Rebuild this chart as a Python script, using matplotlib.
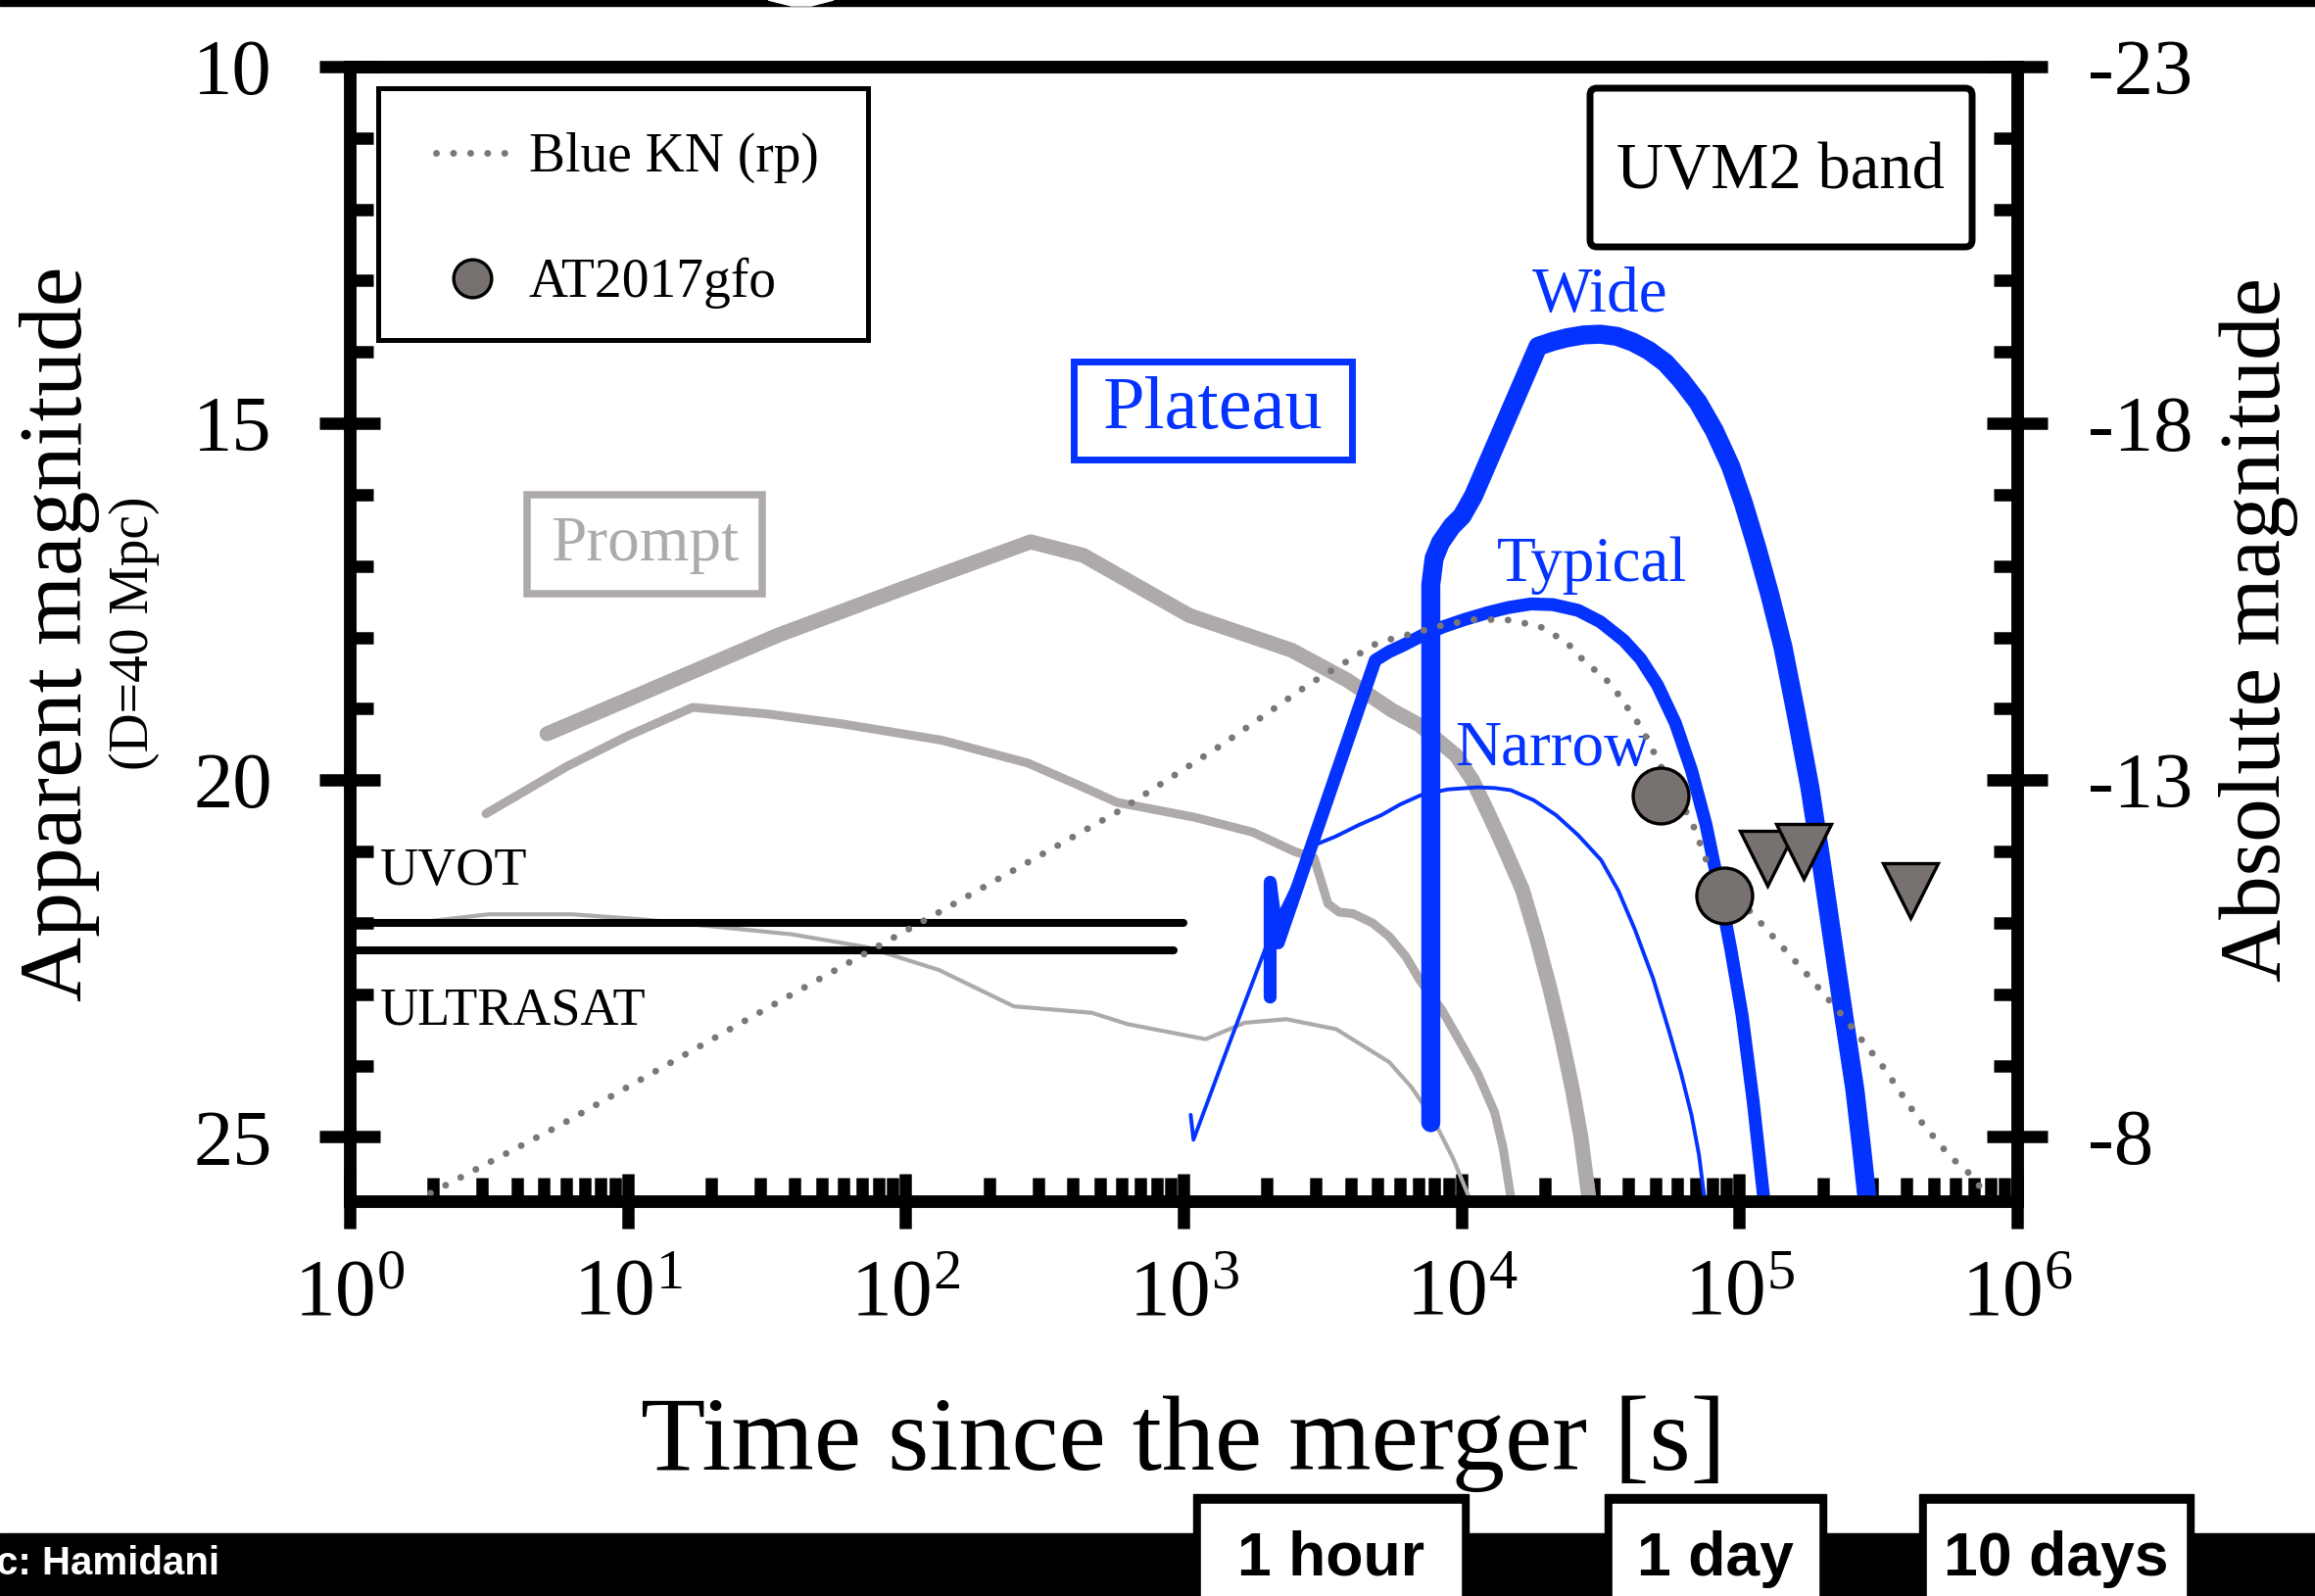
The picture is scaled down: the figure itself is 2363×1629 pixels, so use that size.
import numpy as np
import matplotlib
matplotlib.use("Agg")
import matplotlib.pyplot as plt
from matplotlib.patches import Rectangle, FancyBboxPatch, Polygon
from matplotlib.transforms import IdentityTransform
from matplotlib.ticker import (LogLocator, LogFormatterMathtext, MultipleLocator,
                               FixedLocator, FuncFormatter, NullFormatter)

plt.rcParams['font.family'] = ['Liberation Serif', 'DejaVu Serif']
plt.rcParams['mathtext.fontset'] = 'custom'
plt.rcParams['mathtext.rm'] = 'Liberation Serif'
plt.rcParams['mathtext.it'] = 'Liberation Serif:italic'
plt.rcParams['mathtext.bf'] = 'Liberation Serif:bold'

# ---- values: log10(t / s) and apparent magnitude ----
prompt_wide_logt = [0.71, 1.00, 1.54, 2.00, 2.45, 2.64, 3.02, 3.39, 3.59, 3.75, 3.85,
                    3.98, 4.04, 4.10, 4.16, 4.22, 4.27, 4.32, 4.36, 4.40, 4.43, 4.46, 4.48]
prompt_wide_mag = [19.35, 18.87, 17.97, 17.30, 16.66, 16.85, 17.69, 18.18, 18.60, 19.02,
                   19.23, 19.65, 20.00, 20.49, 21.00, 21.54, 22.20, 22.94, 23.60, 24.34,
                   25.00, 25.89, 26.3]

prompt_typ_logt = [0.49, 0.78, 1.00, 1.234, 1.50, 1.77, 2.13, 2.44, 2.64, 2.76, 3.04, 3.25,
                   3.40, 3.47, 3.52, 3.56, 3.61, 3.68, 3.74, 3.80, 3.85, 3.93, 4.00, 4.06,
                   4.12, 4.15, 4.18, 4.19]
prompt_typ_mag = [20.47, 19.81, 19.38, 18.98, 19.07, 19.21, 19.44, 19.76, 20.10, 20.31,
                  20.52, 20.73, 21.00, 21.09, 21.73, 21.85, 21.87, 22.00, 22.19, 22.47,
                  22.80, 23.22, 23.70, 24.12, 24.66, 25.15, 25.90, 26.3]

prompt_nar_logt = [0.30, 0.50, 0.80, 1.05, 1.59, 1.86, 2.12, 2.39, 2.67, 2.80, 3.08, 3.22,
                   3.37, 3.55, 3.74, 3.82, 3.90, 3.97, 4.04, 4.05]
prompt_nar_mag = [21.97, 21.88, 21.88, 21.95, 22.16, 22.34, 22.66, 23.17, 23.26, 23.42,
                  23.63, 23.40, 23.35, 23.49, 23.95, 24.30, 24.76, 25.30, 25.96, 26.3]

wide_logt = [3.89, 3.89, 3.902, 3.925, 3.966, 4.002, 4.043, 4.276, 4.33, 4.38, 4.44, 4.50,
             4.56, 4.617, 4.675, 4.734, 4.79, 4.851, 4.91, 4.969, 5.016, 5.063, 5.11,
             5.157, 5.205, 5.254, 5.295, 5.335, 5.375, 5.416, 5.44, 5.465]
wide_mag = [24.80, 17.26, 16.89, 16.67, 16.44, 16.30, 16.02, 13.92, 13.85, 13.80, 13.76,
            13.75, 13.78, 13.86, 13.98, 14.15, 14.39, 14.70, 15.10, 15.60, 16.13, 16.74,
            17.40, 18.13, 19.08, 20.10, 21.15, 22.22, 23.28, 24.34, 25.15, 26.05]

typ_logt = [3.312, 3.312, 3.341, 3.69, 3.74, 3.79, 3.86, 3.935, 4.01, 4.097, 4.17, 4.25,
            4.33, 4.42, 4.50, 4.584, 4.645, 4.706, 4.77, 4.828, 4.88, 4.929, 4.97, 5.010,
            5.05, 5.091, 5.10]
typ_mag = [23.04, 21.43, 22.28, 18.32, 18.20, 18.11, 17.97, 17.85, 17.75, 17.65, 17.58,
           17.53, 17.54, 17.62, 17.78, 18.04, 18.30, 18.67, 19.20, 19.86, 20.62, 21.54,
           22.38, 23.29, 24.50, 25.96, 26.3]

nar_logt = [3.026, 3.036, 3.164, 3.327, 3.465, 3.547, 3.63, 3.712, 3.78, 3.854, 3.95,
            4.057, 4.12, 4.178, 4.26, 4.341, 4.42, 4.503, 4.565, 4.625, 4.69, 4.746,
            4.79, 4.828, 4.855, 4.878, 4.885]
nar_mag = [24.69, 25.04, 23.70, 22.03, 20.92, 20.79, 20.63, 20.49, 20.34, 20.21, 20.13,
           20.10, 20.11, 20.14, 20.28, 20.49, 20.77, 21.12, 21.55, 22.10, 22.78, 23.50,
           24.10, 24.69, 25.25, 25.96, 26.3]

kn_logt = [0.236, 0.75, 1.50, 2.13, 2.76, 3.14, 3.45, 3.70, 3.82, 3.92, 4.04, 4.16, 4.28,
           4.38, 4.42, 4.54, 4.65, 4.73, 4.83, 4.89, 5.07, 5.23, 5.38, 5.52, 5.64, 5.76,
           5.82, 5.92]
kn_mag = [25.90, 24.85, 23.20, 21.83, 20.45, 19.50, 18.66, 18.07, 17.95, 17.84, 17.75,
          17.75, 17.84, 18.07, 18.25, 18.66, 19.28, 19.90, 20.59, 21.21, 21.97, 22.66,
          23.34, 24.03, 24.72, 25.28, 25.48, 25.95]

obs_logt = [4.718, 4.946]
obs_mag = [20.21, 21.61]
uplim_logt = [5.102, 5.232, 5.617]
uplim_mag = [21.10, 21.00, 21.55]

uvot_mag, uvot_tend = 22.0, 1000
ultrasat_mag, ultrasat_tend = 22.38, 920

dist_mod = 33.0  # D = 40 Mpc
ylim_app = (25.9, 10)

GRAY = '#aeaaa9'
BLUE = '#0433ff'
DOT = '#7b7776'
MARK = '#77726f'

W, H = 2363, 1629
fig = plt.figure(figsize=(W / 100, H / 100), dpi=100)
PIX = IdentityTransform()


def sec(logt):
    return np.power(10.0, logt)


ax = fig.add_axes([357 / W, 1 - 1226 / H, (2059 - 357) / W, (1226 - 68) / H])
ax.set_xscale('log')
ax.set_xlim(1, 1e6)
ax.set_ylim(*ylim_app)

# prompt (grey) curves
ax.plot(sec(prompt_wide_logt), prompt_wide_mag, color=GRAY, lw=11,
        solid_capstyle='round', solid_joinstyle='round', zorder=2)
ax.plot(sec(prompt_typ_logt), prompt_typ_mag, color=GRAY, lw=6.5,
        solid_capstyle='round', solid_joinstyle='round', zorder=2)
ax.plot(sec(prompt_nar_logt), prompt_nar_mag, color=GRAY, lw=3,
        solid_capstyle='round', solid_joinstyle='round', zorder=2)

# detector limits
ax.plot([1, uvot_tend], [uvot_mag, uvot_mag], color='k', lw=5.8,
        solid_capstyle='round', zorder=3)
ax.plot([1, ultrasat_tend], [ultrasat_mag, ultrasat_mag], color='k', lw=5.8,
        solid_capstyle='round', zorder=3)

# plateau (blue) curves
ax.plot(sec(wide_logt), wide_mag, color=BLUE, lw=14,
        solid_capstyle='round', solid_joinstyle='round', zorder=4)
ax.plot(sec(typ_logt), typ_mag, color=BLUE, lw=9.5,
        solid_capstyle='round', solid_joinstyle='round', zorder=4)
ax.plot(sec(nar_logt), nar_mag, color=BLUE, lw=2.8,
        solid_capstyle='round', solid_joinstyle='round', zorder=4)

# blue kilonova
kn_line, = ax.plot(sec(kn_logt), kn_mag, color=DOT, lw=5,
                   linestyle=(0, (0.01, 2.5)), dash_capstyle='round', zorder=5)

# AT2017gfo
obs_pts, = ax.plot(sec(obs_logt), obs_mag, linestyle='none', marker='o', ms=41,
                   mfc=MARK, mec='k', mew=2.4, zorder=6)
ax.plot(sec(uplim_logt), uplim_mag, linestyle='none', marker='v', ms=40,
        mfc=MARK, mec='k', mew=2.4, zorder=6)

# curve labels
ax.text(sec(4.498), 13.43, 'Wide', color=BLUE, fontsize=47, ha='center', va='baseline')
ax.text(sec(4.470), 17.21, 'Typical', color=BLUE, fontsize=47, ha='center', va='baseline')
ax.text(sec(4.329), 19.79, 'Narrow', color=BLUE, fontsize=47, ha='center', va='baseline')
ax.text(sec(0.109), 21.47, 'UVOT', fontsize=39, ha='left', va='baseline')
ax.text(sec(0.109), 23.42, 'ULTRASAT', fontsize=39, ha='left', va='baseline')

# ticks
ax.xaxis.set_major_locator(LogLocator(base=10, numticks=10))
ax.xaxis.set_minor_locator(LogLocator(base=10, subs=np.arange(2, 10), numticks=100))
ax.xaxis.set_major_formatter(LogFormatterMathtext())
ax.xaxis.set_minor_formatter(NullFormatter())
ax.yaxis.set_major_locator(MultipleLocator(5))
ax.yaxis.set_minor_locator(MultipleLocator(1))
ax.yaxis.set_major_formatter(FuncFormatter(lambda v, p: '%d' % v))
ax.tick_params(which='both', top=False, right=False)
ax.tick_params(axis='x', which='major', direction='inout', length=40, width=9,
               labelsize=60, pad=22)
ax.tick_params(axis='y', which='major', direction='inout', length=44, width=9,
               labelsize=58, pad=35)
ax.tick_params(which='minor', direction='in', length=17, width=9)
for s in ax.spines.values():
    s.set_linewidth(9)

ax2 = ax.twinx()
ax2.set_ylim(ylim_app[0] - dist_mod, ylim_app[1] - dist_mod)
ax2.yaxis.set_major_locator(FixedLocator([-23, -18, -13, -8]))
ax2.yaxis.set_minor_locator(MultipleLocator(1))
ax2.yaxis.set_major_formatter(FuncFormatter(lambda v, p: '%d' % v))
ax2.tick_params(axis='y', which='major', direction='inout', length=44, width=9,
                labelsize=58, pad=30)
ax2.tick_params(axis='y', which='minor', direction='in', length=17, width=9)
for s in ax2.spines.values():
    s.set_linewidth(9)

# axis labels
fig.text(1208 / W, 1 - 1500 / H, 'Time since the merger [s]', fontsize=78,
         ha='center', va='baseline')
fig.text(61 / W, 1 - 647 / H, 'Apparent magnitude', fontsize=66, rotation=90,
         ha='center', va='center')
fig.text(137 / W, 1 - 646 / H, '(D=40 Mpc)', fontsize=40, rotation=90,
         ha='center', va='center')
fig.text(2306 / W, 1 - 643 / H, 'Absolute magnitude', fontsize=64, rotation=90,
         ha='center', va='center')

# legend (frame drawn separately)
ax.legend(handles=[kn_line, obs_pts], labels=['Blue KN (rp)', 'AT2017gfo'],
          loc='upper left', bbox_to_anchor=(445, H - 135), bbox_transform=PIX,
          frameon=False, fontsize=40, handlelength=1.33, handletextpad=0.38,
          labelspacing=1.36, borderpad=0, borderaxespad=0, markerscale=0.68,
          numpoints=1)
fig.add_artist(Rectangle((386, H - 347), 500, 257, fill=False, ec='k', lw=3.6,
                         transform=PIX, zorder=10))

# UVM2 band box
fig.add_artist(FancyBboxPatch((1623, H - 252), 390, 162,
                              boxstyle='round,pad=0,rounding_size=7',
                              fill=False, ec='k', lw=5, transform=PIX, zorder=10))
fig.text(1817 / W, 1 - 192 / H, 'UVM2 band', fontsize=48, ha='center', va='baseline')

# Plateau / Prompt boxes
fig.add_artist(Rectangle((1096, H - 469), 284, 100, fill=False, ec=BLUE, lw=5,
                         transform=PIX, zorder=10))
fig.text(1238 / W, 1 - 419 / H, 'Plateau', fontsize=55, color=BLUE,
         ha='center', va='center')
fig.add_artist(Rectangle((538, H - 606), 240, 101, fill=False, ec=GRAY, lw=5.4,
                         transform=PIX, zorder=10))
fig.text(658 / W, 1 - 556 / H, 'Prompt', fontsize=47, color=GRAY,
         ha='center', va='center')

# top strip
fig.add_artist(Rectangle((0, H - 6), W, 6, color='k', transform=PIX, zorder=20))
fig.add_artist(Polygon([(784, H), (851, H), (828, H - 6), (808, H - 6)], closed=True,
                       color='w', transform=PIX, zorder=21))

# bottom strip with time markers
fig.add_artist(Rectangle((0, 0), W, H - 1565, color='k', transform=PIX, zorder=20))
for x0, x1, lab in [(1218, 1499, '1 hour'), (1638, 1864, '1 day'), (1959, 2239, '10 days')]:
    fig.add_artist(Rectangle((x0, 0), x1 - x0, H - 1525, color='k', transform=PIX, zorder=21))
    fig.add_artist(Rectangle((x0 + 8, 0), x1 - x0 - 16, H - 1535, color='w',
                             transform=PIX, zorder=22))
    fig.text((x0 + x1) / 2 / W, 1 - 1608 / H, lab, family='Liberation Sans',
             weight='bold', fontsize=45, ha='center', va='baseline', zorder=23)
fig.text(-4 / W, 1 - 1607 / H, 'c: Hamidani', family='Liberation Sans', weight='bold',
         fontsize=29, color='w', ha='left', va='baseline', zorder=23)

fig.savefig('out.png', dpi=100)
